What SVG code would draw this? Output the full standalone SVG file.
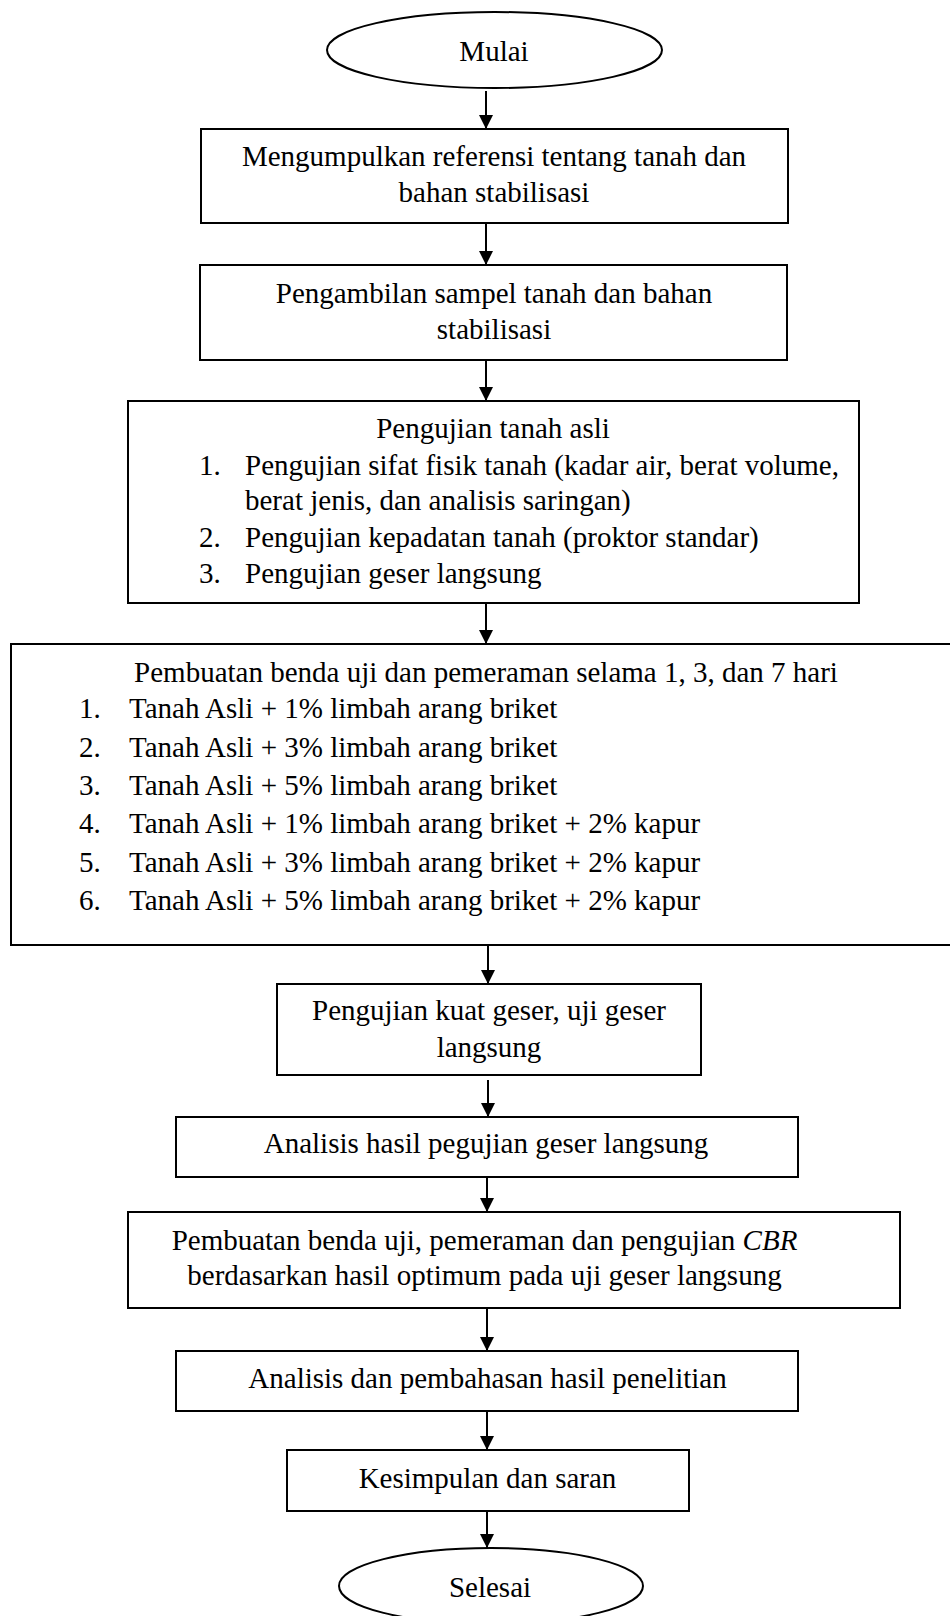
<svg xmlns="http://www.w3.org/2000/svg" width="950" height="1616" viewBox="0 0 950 1616">
<defs>
<style>
.box{fill:#fff;stroke:#000;stroke-width:2}
.t{font-family:"Liberation Serif","Times New Roman",serif;font-size:29px;fill:#000}
.c{text-anchor:middle}
.ln{stroke:#000;stroke-width:2;fill:none}
</style>
<marker id="ah" markerWidth="14" markerHeight="14" refX="14" refY="7" orient="auto" markerUnits="userSpaceOnUse">
<path d="M0,0 L14,7 L0,14 Z" fill="#000"/>
</marker>
</defs>
<rect width="950" height="1616" fill="#fff"/>
<g id="connectors">
<line class="ln" x1="486" y1="91" x2="486" y2="129" marker-end="url(#ah)"/>
<line class="ln" x1="486" y1="223" x2="486" y2="265" marker-end="url(#ah)"/>
<line class="ln" x1="486" y1="360" x2="486" y2="401" marker-end="url(#ah)"/>
<line class="ln" x1="486" y1="603" x2="486" y2="644" marker-end="url(#ah)"/>
<line class="ln" x1="488" y1="945" x2="488" y2="984" marker-end="url(#ah)"/>
<line class="ln" x1="488" y1="1080" x2="488" y2="1117" marker-end="url(#ah)"/>
<line class="ln" x1="487" y1="1177" x2="487" y2="1212" marker-end="url(#ah)"/>
<line class="ln" x1="487" y1="1308" x2="487" y2="1351" marker-end="url(#ah)"/>
<line class="ln" x1="487" y1="1411" x2="487" y2="1450" marker-end="url(#ah)"/>
<line class="ln" x1="487" y1="1511" x2="487" y2="1548" marker-end="url(#ah)"/>
</g>
<g id="mulai">
<ellipse class="box" cx="494.5" cy="50" rx="167.5" ry="38"/>
<text class="t c" x="494" y="61">Mulai</text>
</g>
<g id="referensi">
<rect class="box" x="201" y="129" width="587" height="94"/>
<text class="t c" x="494" y="166">Mengumpulkan referensi tentang tanah dan</text>
<text class="t c" x="494" y="202">bahan stabilisasi</text>
</g>
<g id="sampel">
<rect class="box" x="200" y="265" width="587" height="95"/>
<text class="t c" x="494" y="303">Pengambilan sampel tanah dan bahan</text>
<text class="t c" x="494" y="339">stabilisasi</text>
</g>
<g id="tanah-asli">
<rect class="box" x="128" y="401" width="731" height="202"/>
<text class="t c" x="493" y="438">Pengujian tanah asli</text>
<text class="t" x="199" y="475">1.</text>
<text class="t" x="245" y="475">Pengujian sifat fisik tanah (kadar air, berat volume,</text>
<text class="t" x="245" y="510">berat jenis, dan analisis saringan)</text>
<text class="t" x="199" y="547">2.</text>
<text class="t" x="245" y="547">Pengujian kepadatan tanah (proktor standar)</text>
<text class="t" x="199" y="583">3.</text>
<text class="t" x="245" y="583">Pengujian geser langsung</text>
</g>
<g id="benda-uji">
<rect class="box" x="11" y="644" width="960" height="301"/>
<text class="t c" x="486" y="682">Pembuatan benda uji dan pemeraman selama 1, 3, dan 7 hari</text>
<text class="t" x="79" y="718">1.</text>
<text class="t" x="129" y="718">Tanah Asli + 1% limbah arang briket</text>
<text class="t" x="79" y="757">2.</text>
<text class="t" x="129" y="757">Tanah Asli + 3% limbah arang briket</text>
<text class="t" x="79" y="795">3.</text>
<text class="t" x="129" y="795">Tanah Asli + 5% limbah arang briket</text>
<text class="t" x="79" y="833">4.</text>
<text class="t" x="129" y="833">Tanah Asli + 1% limbah arang briket + 2% kapur</text>
<text class="t" x="79" y="872">5.</text>
<text class="t" x="129" y="872">Tanah Asli + 3% limbah arang briket + 2% kapur</text>
<text class="t" x="79" y="910">6.</text>
<text class="t" x="129" y="910">Tanah Asli + 5% limbah arang briket + 2% kapur</text>
</g>
<g id="kuat-geser">
<rect class="box" x="277" y="984" width="424" height="91"/>
<text class="t c" x="489" y="1020">Pengujian kuat geser, uji geser</text>
<text class="t c" x="489" y="1057">langsung</text>
</g>
<g id="analisis-geser">
<rect class="box" x="176" y="1117" width="622" height="60"/>
<text class="t c" x="486" y="1153">Analisis hasil pegujian geser langsung</text>
</g>
<g id="cbr">
<rect class="box" x="128" y="1212" width="772" height="96"/>
<text class="t c" x="484.5" y="1250">Pembuatan benda uji, pemeraman dan pengujian <tspan font-style="italic">CBR</tspan></text>
<text class="t c" x="484.5" y="1285">berdasarkan hasil optimum pada uji geser langsung</text>
</g>
<g id="pembahasan">
<rect class="box" x="176" y="1351" width="622" height="60"/>
<text class="t c" x="487.5" y="1388">Analisis dan pembahasan hasil penelitian</text>
</g>
<g id="kesimpulan">
<rect class="box" x="287" y="1450" width="402" height="61"/>
<text class="t c" x="487.5" y="1488">Kesimpulan dan saran</text>
</g>
<g id="selesai">
<ellipse class="box" cx="491" cy="1586" rx="152" ry="38"/>
<text class="t c" x="490" y="1597">Selesai</text>
</g>
</svg>
